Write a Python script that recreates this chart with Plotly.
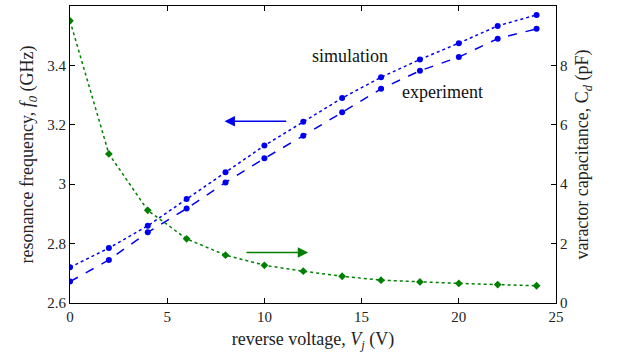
import plotly.graph_objects as go

voltage = [0, 2, 4, 6, 8, 10, 12, 14, 16, 18, 20, 22, 24]
f_simulation = [2.72, 2.785, 2.86, 2.95, 3.04, 3.13, 3.21, 3.29, 3.36, 3.42, 3.475, 3.533, 3.57]
f_experiment = [2.672, 2.745, 2.838, 2.918, 3.006, 3.087, 3.163, 3.242, 3.321, 3.382, 3.428, 3.49, 3.523]
capacitance = [9.5, 5.02, 3.12, 2.16, 1.61, 1.27, 1.07, 0.90, 0.77, 0.71, 0.66, 0.62, 0.58]

x_ticks = [0, 5, 10, 15, 20, 25]
f_ticks = [2.6, 2.8, 3.0, 3.2, 3.4]
f_ticklabels = ["2.6", "2.8", "3", "3.2", "3.4"]
c_ticks = [0, 2, 4, 6, 8]

BLUE = "#0000ee"
GREEN = "#008000"
FONT = "Liberation Serif"

fig = go.Figure()
fig.add_trace(go.Scatter(x=voltage, y=f_simulation, mode="lines+markers",
                         line=dict(color=BLUE, dash="dot", width=1.5),
                         marker=dict(color=BLUE, size=6, symbol="circle"),
                         name="simulation", yaxis="y"))
fig.add_trace(go.Scatter(x=voltage, y=f_experiment, mode="lines+markers",
                         line=dict(color=BLUE, dash="dash", width=1.5),
                         marker=dict(color=BLUE, size=6, symbol="circle"),
                         name="experiment", yaxis="y"))
fig.add_trace(go.Scatter(x=voltage, y=capacitance, mode="lines+markers",
                         line=dict(color=GREEN, dash="dot", width=1.5),
                         marker=dict(color=GREEN, size=6, symbol="diamond"),
                         name="capacitance", yaxis="y2"))

axis_common = dict(showgrid=False, zeroline=False, showline=True, linecolor="black",
                   linewidth=1.2, ticks="inside", ticklen=5, tickcolor="black",
                   tickfont=dict(family=FONT, size=15, color="#222"))

fig.update_layout(
    width=621, height=360,
    margin=dict(l=70, r=65, t=6, b=57),
    paper_bgcolor="white", plot_bgcolor="white",
    showlegend=False,
    font=dict(family=FONT, size=17, color="#222"),
    xaxis=dict(range=[0, 25], tickvals=x_ticks, mirror="ticks",
               title=dict(text="reverse voltage, <i>V</i><sub><i>j</i></sub> (V)",
                          font=dict(family=FONT, size=18), standoff=8),
               **axis_common),
    yaxis=dict(range=[2.6, 3.6], tickvals=f_ticks, ticktext=f_ticklabels, mirror=True,
               title=dict(text="resonance frequency, <i>f</i><sub><i>0</i></sub> (GHz)",
                          font=dict(family=FONT, size=18), standoff=8),
               **axis_common),
    yaxis2=dict(range=[0, 10], tickvals=c_ticks, overlaying="y", side="right",
                title=dict(text="varactor capacitance, C<sub><i>d</i></sub> (pF)",
                           font=dict(family=FONT, size=18), standoff=8),
                **axis_common),
)

fig.add_annotation(x=14.38, y=3.432, xref="x", yref="y", text="simulation", showarrow=False,
                   font=dict(family=FONT, size=18, color="#111"))
fig.add_annotation(x=19.17, y=3.311, xref="x", yref="y", text="experiment", showarrow=False,
                   font=dict(family=FONT, size=18, color="#111"))
fig.add_annotation(x=7.95, y=3.212, ax=11.2, ay=3.212, xref="x", yref="y", axref="x", ayref="y",
                   text="", showarrow=True, arrowhead=2, arrowsize=1.3, arrowwidth=1.6,
                   arrowcolor=BLUE)
fig.add_annotation(x=12.25, y=2.770, ax=9.0, ay=2.770, xref="x", yref="y", axref="x", ayref="y",
                   text="", showarrow=True, arrowhead=2, arrowsize=1.3, arrowwidth=1.6,
                   arrowcolor=GREEN)

fig.write_html("out.html")
